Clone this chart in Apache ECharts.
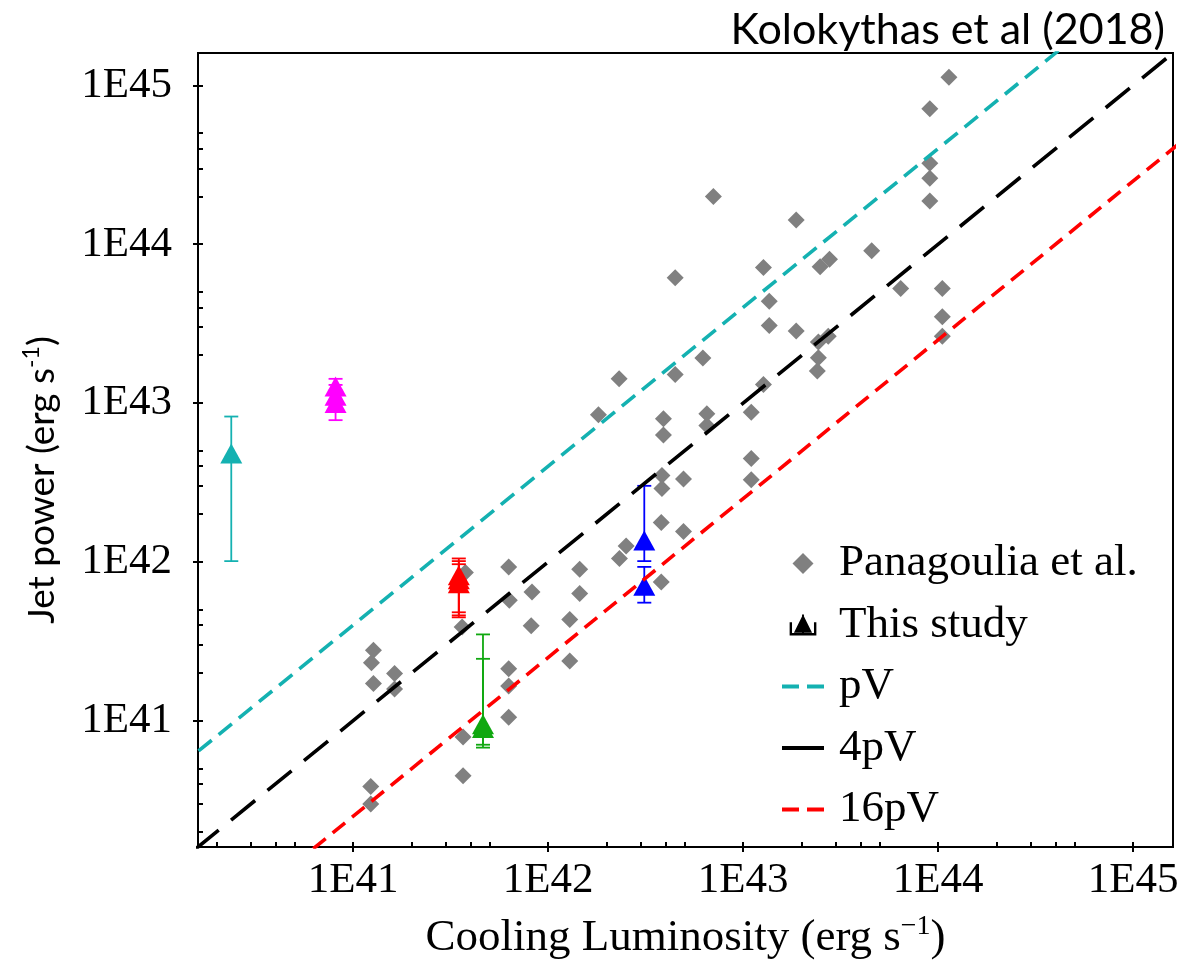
<!DOCTYPE html>
<html>
<head>
<meta charset="utf-8">
<script src="https://cdn.jsdelivr.net/npm/echarts@6/dist/echarts.min.js"></script>
<style>
  html, body { margin: 0; padding: 0; background: #ffffff; }
  #chart { width: 1196px; height: 964px; }
</style>
</head>
<body>
<div id="chart"></div>
<script>
// Panagoulia et al. sample: [cooling luminosity, jet power] in erg/s
const panagoulia = [
  [1.135e44, 1.125e45], [9.06e43, 7.13e44], [9.06e43, 3.24e44], [9.06e43, 2.60e44],
  [9.06e43, 1.87e44], [1.87e43, 1.42e44], [7.03e42, 2.0e44], [4.56e43, 9.1e43],
  [2.48e43, 7.21e43], [2.77e43, 8.05e43], [1.27e43, 7.14e43], [4.48e42, 6.15e43],
  [6.42e43, 5.26e43], [1.05e44, 5.26e43], [1.05e44, 3.49e43], [1.05e44, 2.63e43],
  [1.36e43, 4.37e43], [1.36e43, 3.08e43], [1.87e43, 2.84e43], [2.73e43, 2.63e43],
  [2.43e43, 2.42e43], [2.43e43, 1.93e43], [2.40e43, 1.59e43], [6.21e42, 1.92e43],
  [1.27e43, 1.31e43], [4.48e42, 1.51e43], [2.31e42, 1.42e43], [1.81e42, 8.43e42],
  [3.90e42, 7.95e42], [3.90e42, 6.3e42], [6.51e42, 8.55e42], [6.51e42, 7.21e42],
  [1.10e43, 8.76e42], [1.10e43, 4.48e42], [1.10e43, 3.29e42], [4.94e42, 3.32e42],
  [3.83e42, 3.49e42], [3.83e42, 2.90e42], [3.80e42, 1.77e42], [4.94e42, 1.55e42],
  [2.51e42, 1.26e42], [2.32e42, 1.05e42], [1.45e42, 8.98e41], [1.45e42, 6.31e41],
  [8.26e41, 6.46e41], [8.18e41, 3.96e41], [1.29e42, 4.34e41], [1.29e42, 2.37e41],
  [3.80e42, 7.47e41], [6.27e41, 9.29e41], [6.32e41, 5.72e41], [3.76e41, 8.56e41],
  [3.62e41, 3.88e41], [6.27e41, 2.12e41], [6.27e41, 1.65e41], [6.27e41, 1.05e41],
  [3.66e41, 7.89e40], [3.66e41, 4.50e40], [1.27e41, 2.77e41], [1.24e41, 2.31e41],
  [1.27e41, 1.71e41], [1.63e41, 1.98e41], [1.63e41, 1.58e41], [1.23e41, 3.85e40],
  [1.23e41, 2.99e40]
];

// This study: [L_cool, P_jet, P_low, P_high, colour index]
const studyColors = ['#14b1b1', '#ff00ff', '#ff0000', '#10a810', '#0000ff'];
const studyData = [
  [2.37e40, 4.81e42, 1.01e42, 8.22e42, 0],
  [8.12e40, 1.27e43, 1.12e43, 1.42e43, 1],
  [8.12e40, 1.11e43, 9.0e42, 1.3e43, 1],
  [8.12e40, 1.0e43, 7.8e42, 1.2e43, 1],
  [3.48e41, 8.22e41, 4.47e41, 1.05e42, 2],
  [3.48e41, 7.76e41, 4.60e41, 1.01e42, 2],
  [3.48e41, 7.33e41, 4.81e41, 9.66e41, 2],
  [4.63e41, 9.5e40, 7.05e40, 3.49e41, 3],
  [4.63e41, 8.97e40, 6.76e40, 2.45e41, 3],
  [3.11e42, 1.36e42, 1.01e42, 3.01e42, 4],
  [3.11e42, 7.08e41, 5.53e41, 9.29e41, 4]
];

// Enthalpy reference lines (end points in erg/s)
const pVLine = [[1e40, 4e40], [1e46, 4e46]];
const fourPVLine = [[1e40, 1e40], [1e46, 1e46]];
const sixteenPVLine = [[1e40, 2.5e39], [1e46, 2.5e45]];

// Axis range and tick values
const axisMin = 1.6e40;
const axisMax = 1.6e45;
const majorTicks = [1e41, 1e42, 1e43, 1e44, 1e45];
const minorTicks = [
  2e40, 3e40, 4e40, 5e40, 2e41, 3e41, 4e41, 5e41, 2e42, 3e42, 4e42, 5e42,
  2e43, 3e43, 4e43, 5e43, 2e44, 3e44, 4e44, 5e44
];

const SERIF = "'Liberation Serif', 'DejaVu Serif', serif";
const SANS = "Lato, 'Open Sans', sans-serif";

const tickLabel = v => '1E' + Math.round(Math.log10(v));

function outerAxis(extra) {
  return Object.assign({
    type: 'log', logBase: 10, min: axisMin, max: axisMax,
    axisLine: { show: true, lineStyle: { color: '#000', width: 2 } },
    axisTick: { show: true, inside: false, length: 5, customValues: majorTicks,
      lineStyle: { color: '#000', width: 2 } },
    splitLine: { show: false },
    minorTick: { show: false },
    minorSplitLine: { show: false }
  }, extra);
}

function innerAxis(extra) {
  return Object.assign({
    type: 'log', logBase: 10, min: axisMin, max: axisMax,
    axisLine: { show: false },
    axisTick: { show: true, inside: true, length: 5, customValues: majorTicks.concat(minorTicks),
      lineStyle: { color: '#000', width: 2 } },
    axisLabel: { show: false },
    splitLine: { show: false }
  }, extra);
}

const chart = echarts.init(document.getElementById('chart'), null, { renderer: 'canvas' });

chart.setOption({
  animation: false,
  backgroundColor: '#ffffff',
  title: {
    text: 'Kolokythas et al (2018)',
    right: 26, top: 4,
    textStyle: { fontFamily: SANS, fontSize: 43, fontWeight: 'normal', color: '#000' }
  },
  grid: {
    left: 198, top: 53, right: 23, bottom: 117,
    show: true, borderColor: '#000', borderWidth: 2, backgroundColor: 'transparent',
    containLabel: false, outerBoundsMode: 'none'
  },
  xAxis: [
    outerAxis({
      position: 'bottom',
      axisLabel: { show: true, customValues: majorTicks, formatter: tickLabel,
        fontFamily: SERIF, fontSize: 43, color: '#000', margin: 12 },
      name: '{t|Cooling Luminosity (erg s}{s|\u22121}{t|)}',
      nameLocation: 'middle', nameGap: 66,
      nameTextStyle: {
        rich: {
          t: { fontFamily: SERIF, fontSize: 45, color: '#000', lineHeight: 50 },
          s: { fontFamily: SERIF, fontSize: 28, color: '#000', lineHeight: 30, verticalAlign: 'top' }
        }
      }
    }),
    innerAxis({ position: 'bottom' })
  ],
  yAxis: [
    outerAxis({
      position: 'left',
      axisLabel: { show: true, customValues: majorTicks, formatter: tickLabel,
        fontFamily: SERIF, fontSize: 43, color: '#000', margin: 26 }
    }),
    innerAxis({ position: 'left' })
  ],
  graphic: [{
    type: 'text', x: 42, y: 480, rotation: Math.PI / 2,
    style: {
      text: '{t|Jet power (erg s}{s|-1}{t|)}',
      align: 'center', verticalAlign: 'middle',
      rich: {
        t: { fontFamily: SANS, fontSize: 37, fill: '#000', lineHeight: 44 },
        s: { fontFamily: SANS, fontSize: 23, fill: '#000', lineHeight: 30, verticalAlign: 'top' }
      }
    }
  }],
  legend: {
    orient: 'vertical', left: 775, top: 536,
    itemWidth: 42, itemHeight: 21, itemGap: 16.5,
    selectedMode: false,
    textStyle: { fontFamily: SERIF, fontSize: 45, color: '#000', lineHeight: 44, padding: [0, 0, 0, 10] },
    data: [
      { name: 'Panagoulia et al.', itemStyle: { color: '#808080' },
        icon: 'path://M9,0 L18,9 L9,18 L0,9 Z' },
      { name: 'This study', itemStyle: { color: '#000' },
        icon: 'path://M14,0 L23.5,19 L4.5,19 Z M0,8 L2.5,8 L2.5,19.5 L25.5,19.5 L25.5,8 L28,8 L28,22 L0,22 Z M13,0 L15,0 L15,22 L13,22 Z' },
      { name: 'pV', itemStyle: { opacity: 0 }, lineStyle: { color: '#14b1b1', width: 4, type: [17, 8] } },
      { name: '4pV', itemStyle: { opacity: 0 }, lineStyle: { color: '#000', width: 4, type: 'solid' } },
      { name: '16pV', itemStyle: { opacity: 0 }, lineStyle: { color: '#ff0000', width: 4, type: [17, 8] } }
    ]
  },
  series: [
    {
      name: 'Panagoulia et al.', type: 'scatter',
      xAxisIndex: 0, yAxisIndex: 0,
      data: panagoulia,
      symbol: 'diamond', symbolSize: 17,
      itemStyle: { color: '#808080', opacity: 1 },
      z: 2
    },
    {
      name: 'This study', type: 'custom',
      xAxisIndex: 0, yAxisIndex: 0,
      data: studyData,
      encode: { x: 0, y: [1, 2, 3] },
      z: 3,
      renderItem: function (params, api) {
        const x = api.value(0);
        const lo = api.coord([x, api.value(2)]);
        const hi = api.coord([x, api.value(3)]);
        const color = studyColors[api.value(4)];
        const cap = 7;
        const st = { stroke: color, lineWidth: 1.8 };
        return {
          type: 'group',
          children: [
            { type: 'line', shape: { x1: lo[0], y1: lo[1], x2: hi[0], y2: hi[1] }, style: st },
            { type: 'line', shape: { x1: lo[0] - cap, y1: lo[1], x2: lo[0] + cap, y2: lo[1] }, style: st },
            { type: 'line', shape: { x1: hi[0] - cap, y1: hi[1], x2: hi[0] + cap, y2: hi[1] }, style: st }
          ]
        };
      }
    },
    {
      name: 'This study', type: 'scatter',
      xAxisIndex: 0, yAxisIndex: 0,
      data: studyData,
      encode: { x: 0, y: 1 },
      symbol: 'triangle', symbolSize: [22, 20],
      itemStyle: { color: p => studyColors[p.data[4]], opacity: 1 },
      z: 4
    },
    {
      name: 'pV', type: 'line', xAxisIndex: 0, yAxisIndex: 0,
      data: pVLine, symbol: 'none', clip: true,
      lineStyle: { color: '#14b1b1', width: 3.6, type: [17, 9] },
      z: 5
    },
    {
      name: '4pV', type: 'line', xAxisIndex: 0, yAxisIndex: 0,
      data: fourPVLine, symbol: 'none', clip: true,
      lineStyle: { color: '#000', width: 3.6, type: [31, 16] },
      z: 5
    },
    {
      name: '16pV', type: 'line', xAxisIndex: 0, yAxisIndex: 0,
      data: sixteenPVLine, symbol: 'none', clip: true,
      lineStyle: { color: '#ff0000', width: 3.6, type: [16, 9] },
      z: 5
    }
  ]
});
</script>
</body>
</html>
